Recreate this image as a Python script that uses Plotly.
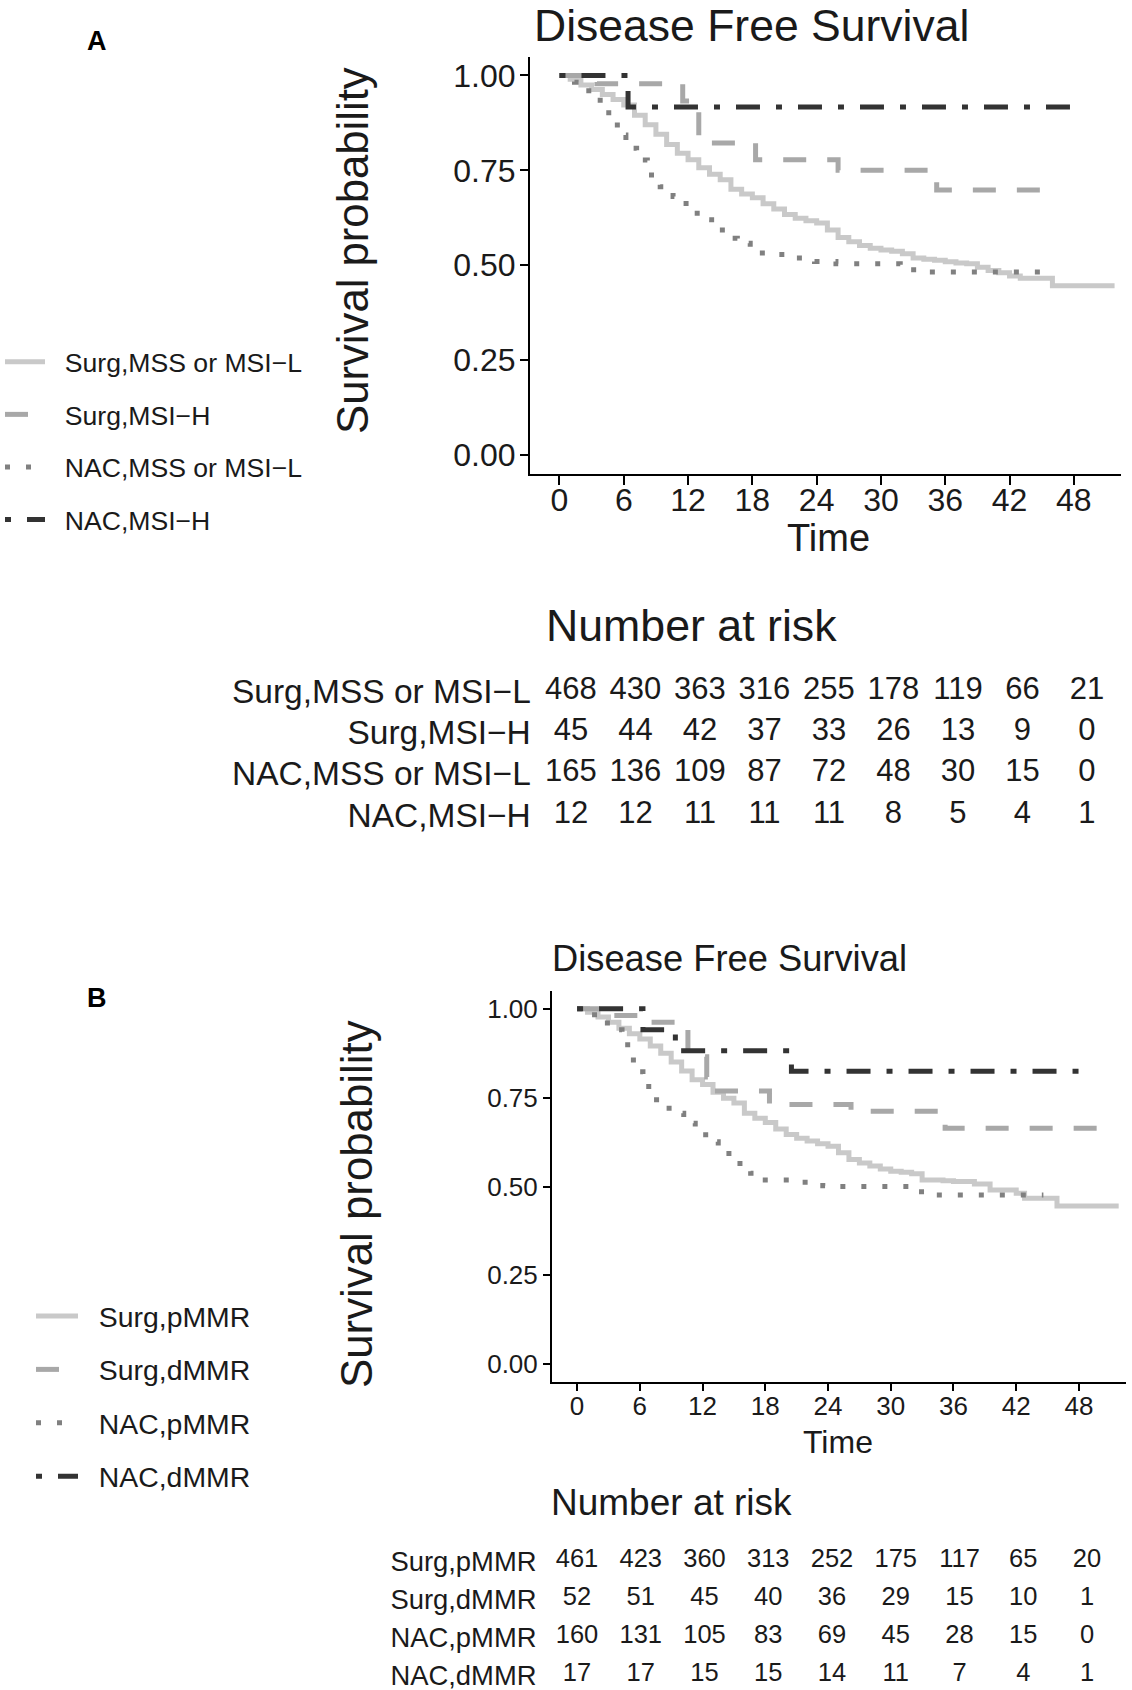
import plotly.graph_objects as go

W, H = 1132, 1690
FONT = "Liberation Sans, Arial, Helvetica, sans-serif"
TXT = "#1a1a1a"
NB = "\u00a0\u00a0"  # small gap between legend key and label

# ---------------- data: panel A ----------------
a_names = ["Surg,MSS or MSI−L", "Surg,MSI−H", "NAC,MSS or MSI−L", "NAC,MSI−H"]

a_surg_mss_t = [0, 1, 2, 3, 4, 5, 6, 7, 8, 9, 10, 11, 12, 13, 14, 15, 16, 17, 18, 19, 20, 21, 22, 23, 24,
                25, 26, 27, 28, 29, 30, 31, 32, 33, 34, 35, 36, 37, 38, 39, 40, 41, 42, 43, 46, 51.8]
a_surg_mss_s = [1.0, 0.990, 0.975, 0.963, 0.950, 0.937, 0.922, 0.895, 0.870, 0.845, 0.818, 0.795, 0.778,
                0.757, 0.740, 0.725, 0.700, 0.688, 0.678, 0.662, 0.648, 0.634, 0.624, 0.617, 0.611, 0.593,
                0.573, 0.562, 0.552, 0.545, 0.540, 0.537, 0.530, 0.519, 0.516, 0.513, 0.509, 0.506, 0.504,
                0.495, 0.486, 0.480, 0.472, 0.466, 0.446, 0.446]

a_surg_msih_t = [0, 3.5, 11.5, 13.0, 18.3, 26.0, 35.2, 46.4]
a_surg_msih_s = [1.0, 0.978, 0.933, 0.822, 0.778, 0.750, 0.698, 0.698]

a_nac_mss_t = [0, 1.4, 2.5, 3.8, 4.6, 5.4, 6.2, 7.2, 8.2, 9.4, 10.6, 11.4, 12.6, 13.4, 14.2, 15.2, 16.6,
               17.8, 19.8, 21.8, 23.8, 25.8, 31.8, 33.6, 45.2]
a_nac_mss_s = [1.0, 0.982, 0.960, 0.921, 0.882, 0.843, 0.808, 0.777, 0.738, 0.707, 0.681, 0.663, 0.637,
               0.620, 0.602, 0.571, 0.558, 0.532, 0.528, 0.519, 0.510, 0.504, 0.488, 0.482, 0.482]

a_nac_msih_t = [0, 6.4, 48.0]
a_nac_msih_s = [1.0, 0.917, 0.917]

# ---------------- data: panel B ----------------
b_names = ["Surg,pMMR", "Surg,dMMR", "NAC,pMMR", "NAC,dMMR"]

b_surg_p_t = [0, 1, 2, 3, 4, 5, 6, 7, 8, 9, 10, 11, 12, 13, 14, 15, 16, 17, 18, 19, 20, 21, 22, 23, 24,
              25, 26, 27, 28, 29, 30, 31, 32, 33, 35, 36, 38, 39.5, 42, 42.8, 45.9, 51.8]
b_surg_p_s = [1.0, 0.990, 0.977, 0.962, 0.945, 0.930, 0.915, 0.895, 0.875, 0.850, 0.825, 0.800, 0.787,
              0.765, 0.748, 0.735, 0.706, 0.692, 0.680, 0.662, 0.646, 0.636, 0.628, 0.620, 0.613, 0.595,
              0.576, 0.566, 0.558, 0.549, 0.543, 0.540, 0.536, 0.518, 0.516, 0.514, 0.507, 0.490, 0.481,
              0.467, 0.445, 0.445]

b_surg_d_t = [0, 2.9, 6.8, 9.8, 10.6, 12.4, 13.0, 18.4, 26.2, 35.2, 50.0]
b_surg_d_s = [1.0, 0.981, 0.962, 0.942, 0.865, 0.808, 0.769, 0.731, 0.712, 0.664, 0.664]

b_nac_p_t = [0, 1.4, 2.9, 4.3, 5.1, 5.7, 6.3, 7.6, 8.8, 10.2, 11.3, 12.3, 13.5, 14.9, 16.6, 17.4, 21.1,
             23.5, 24.8, 31.7, 33.4, 44.6]
b_nac_p_s = [1.0, 0.983, 0.941, 0.899, 0.856, 0.823, 0.781, 0.744, 0.706, 0.678, 0.654, 0.626, 0.593,
             0.565, 0.537, 0.518, 0.512, 0.502, 0.500, 0.485, 0.476, 0.476]

b_nac_d_t = [0, 6.3, 9.4, 20.5, 48.1]
b_nac_d_s = [1.0, 0.941, 0.882, 0.824, 0.824]

# ---------------- number at risk ----------------
risk_times = [0, 6, 12, 18, 24, 30, 36, 42, 48]
a_risk = [
    [468, 430, 363, 316, 255, 178, 119, 66, 21],
    [45, 44, 42, 37, 33, 26, 13, 9, 0],
    [165, 136, 109, 87, 72, 48, 30, 15, 0],
    [12, 12, 11, 11, 11, 8, 5, 4, 1],
]
b_risk = [
    [461, 423, 360, 313, 252, 175, 117, 65, 20],
    [52, 51, 45, 40, 36, 29, 15, 10, 1],
    [160, 131, 105, 83, 69, 45, 28, 15, 0],
    [17, 17, 15, 15, 14, 11, 7, 4, 1],
]

x_ticks = [0, 6, 12, 18, 24, 30, 36, 42, 48]
y_ticks = [0, 0.25, 0.5, 0.75, 1.0]
y_ticktext = ["0.00", "0.25", "0.50", "0.75", "1.00"]

# ---------------- styles ----------------
colors = ["#c9c9c9", "#a8a8a8", "#808080", "#333333"]
dashes = ["solid", "23px,21px", "5px,16px", "6px,16px,24px,16px"]
LW = 5


def px_x(p):
    return min(1.0, max(0.0, p / W))


def px_y(p):
    return min(1.0, max(0.0, 1 - p / H))


fig = go.Figure()

a_series = [(a_surg_mss_t, a_surg_mss_s), (a_surg_msih_t, a_surg_msih_s),
            (a_nac_mss_t, a_nac_mss_s), (a_nac_msih_t, a_nac_msih_s)]
b_series = [(b_surg_p_t, b_surg_p_s), (b_surg_d_t, b_surg_d_s),
            (b_nac_p_t, b_nac_p_s), (b_nac_d_t, b_nac_d_s)]

for i, (t, s) in enumerate(a_series):
    fig.add_trace(go.Scatter(x=t, y=s, mode="lines", line_shape="hv", name=NB + a_names[i],
                             line=dict(color=colors[i], width=LW, dash=dashes[i]),
                             xaxis="x", yaxis="y", legend="legend", legendgroup="a%d" % i))
for i, (t, s) in enumerate(b_series):
    fig.add_trace(go.Scatter(x=t, y=s, mode="lines", line_shape="hv", name=NB + b_names[i],
                             line=dict(color=colors[i], width=LW, dash=dashes[i]),
                             xaxis="x2", yaxis="y2", legend="legend2", legendgroup="b%d" % i))

# risk tables as text marks
for r, row in enumerate(a_risk):
    fig.add_trace(go.Scatter(x=risk_times, y=[4 - r] * len(risk_times), mode="text",
                             text=[str(v) for v in row], textposition="middle center",
                             textfont=dict(family=FONT, size=31, color=TXT),
                             xaxis="x3", yaxis="y3", showlegend=False, hoverinfo="skip"))
for r, row in enumerate(b_risk):
    fig.add_trace(go.Scatter(x=risk_times, y=[4 - r] * len(risk_times), mode="text",
                             text=[str(v) for v in row], textposition="middle center",
                             textfont=dict(family=FONT, size=25.5, color=TXT),
                             xaxis="x4", yaxis="y4", showlegend=False, hoverinfo="skip"))

axis_common = dict(showline=True, linecolor="black", linewidth=2, ticks="outside",
                   tickwidth=2, tickcolor="black", showgrid=False, zeroline=False)

# table A: row 4 at 691 px, 41.3 px per row ; table B: row 4 at 1561 px, 38 px per row
fig.update_layout(
    width=W, height=H, margin=dict(l=0, r=0, t=0, b=0),
    paper_bgcolor="white", plot_bgcolor="white",
    font=dict(family=FONT, color=TXT),
    xaxis=dict(domain=[px_x(530), px_x(1121)], range=[-2.75, 52.4], tickvals=x_ticks,
               tickfont=dict(size=32, color=TXT), ticklen=9, ticklabelstandoff=-12,
               anchor="y", **axis_common),
    yaxis=dict(domain=[px_y(474), px_y(56.5)], range=[-0.05, 1.05], tickvals=y_ticks,
               ticktext=y_ticktext, tickfont=dict(size=32, color=TXT), ticklen=8,
               ticklabelstandoff=-2, anchor="x", **axis_common),
    xaxis2=dict(domain=[px_x(552), px_x(1126)], range=[-2.4, 52.5], tickvals=x_ticks,
                tickfont=dict(size=26, color=TXT), ticklen=7, ticklabelstandoff=-7,
                anchor="y2", **axis_common),
    yaxis2=dict(domain=[px_y(1382), px_y(991)], range=[-0.05, 1.05], tickvals=y_ticks,
                ticktext=y_ticktext, tickfont=dict(size=26, color=TXT), ticklen=7,
                anchor="x2", **axis_common),
    xaxis3=dict(domain=[px_x(539.8), px_x(1130)], range=[-2.9, 52.0], visible=False, anchor="y3"),
    yaxis3=dict(domain=[px_y(691 + 41.3 * 3.5), px_y(691 - 41.3 * 0.5)], range=[0.5, 4.5],
                tickvals=[4, 3, 2, 1], ticktext=a_names, tickfont=dict(size=33.5, color=TXT),
                showline=False, showgrid=False, zeroline=False, ticks="", ticklabelstandoff=8,
                ticklabeloverflow="allow", anchor="x3"),
    xaxis4=dict(domain=[px_x(551.5), px_x(1129.5)], range=[-2.4, 52.0], visible=False, anchor="y4"),
    yaxis4=dict(domain=[px_y(1690), px_y(1542)], range=[4.5 - 148 / 38, 4.5], tickvals=[4, 3, 2, 1],
                ticktext=b_names, tickfont=dict(size=27.4, color=TXT), showline=False, showgrid=False,
                zeroline=False, ticks="", ticklabelstandoff=14, ticklabeloverflow="allow",
                anchor="x4"),
    legend=dict(x=0, y=px_y(338), xanchor="left", yanchor="top", font=dict(size=26.6, color=TXT),
                itemwidth=40, tracegroupgap=15, bgcolor="rgba(0,0,0,0)"),
    legend2=dict(x=px_x(31), y=px_y(1291), xanchor="left", yanchor="top",
                 font=dict(size=28.4, color=TXT), itemwidth=42, tracegroupgap=13.5,
                 bgcolor="rgba(0,0,0,0)"),
)

annotations = [
    dict(text="<b>A</b>", x=px_x(97), y=px_y(41), font=dict(size=27, color="black")),
    dict(text="<b>B</b>", x=px_x(97), y=px_y(998), font=dict(size=27, color="black")),
    dict(text="Disease Free Survival", x=px_x(752), y=1.0, yanchor="top", borderpad=0,
         font=dict(size=44.5, color=TXT)),
    dict(text="Disease Free Survival", x=px_x(729), y=px_y(958), font=dict(size=36.3, color=TXT)),
    dict(text="Survival probability", x=px_x(353), y=px_y(251), textangle=-90,
         font=dict(size=43.7, color=TXT)),
    dict(text="Survival probability", x=px_x(356), y=px_y(1204), textangle=-90,
         font=dict(size=43.8, color=TXT)),
    dict(text="Time", x=px_x(828), y=px_y(538), font=dict(size=38, color=TXT)),
    dict(text="Time", x=px_x(838), y=px_y(1442), font=dict(size=32, color=TXT)),
    dict(text="Number at risk", x=px_x(691), y=px_y(625), font=dict(size=44.7, color=TXT)),
    dict(text="Number at risk", x=px_x(671), y=px_y(1502), font=dict(size=37, color=TXT)),
]
for a in annotations:
    a.setdefault("yanchor", "middle")
    a.update(xref="paper", yref="paper", showarrow=False, xanchor="center")
fig.update_layout(annotations=annotations)

# remove the browser's default 8px body margin so the figure fills the window exactly
fig.write_html("out.html", config={"displayModeBar": False},
               post_script="document.body.style.margin='0px';")
